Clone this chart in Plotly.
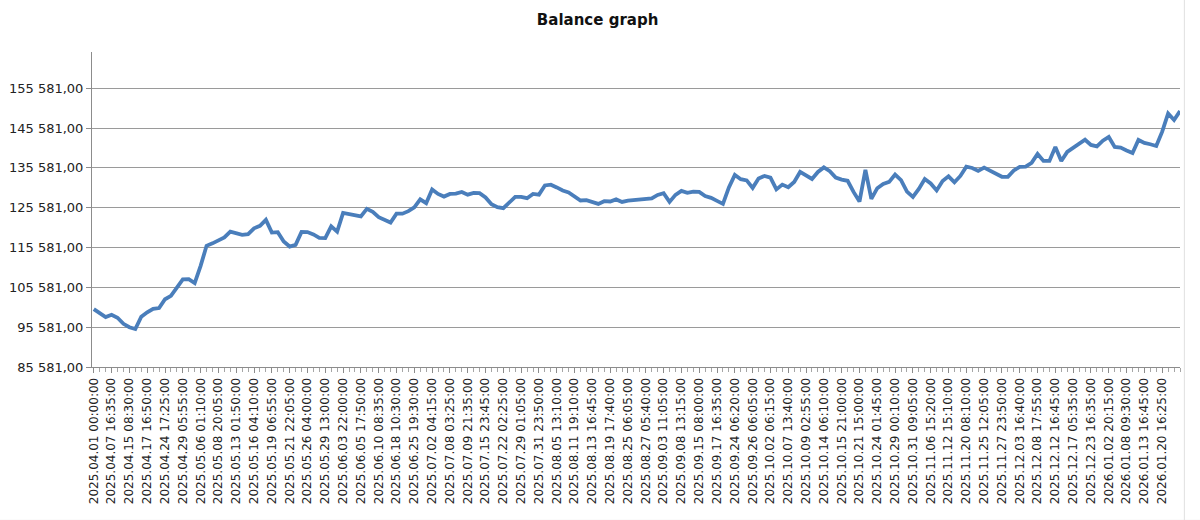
import plotly.graph_objects as go

# ---- data ----
tick_labels = [
    "2025.04.01 00:00:00", "2025.04.07 16:35:00", "2025.04.15 08:30:00", "2025.04.17 16:50:00",
    "2025.04.24 17:25:00", "2025.04.29 05:55:00", "2025.05.06 01:10:00", "2025.05.08 20:05:00",
    "2025.05.13 01:50:00", "2025.05.16 04:10:00", "2025.05.19 06:55:00", "2025.05.21 22:05:00",
    "2025.05.26 04:00:00", "2025.05.29 13:00:00", "2025.06.03 22:00:00", "2025.06.05 17:50:00",
    "2025.06.10 08:35:00", "2025.06.18 10:30:00", "2025.06.25 19:30:00", "2025.07.02 04:15:00",
    "2025.07.08 03:25:00", "2025.07.09 21:35:00", "2025.07.15 23:45:00", "2025.07.22 02:25:00",
    "2025.07.29 01:05:00", "2025.07.31 23:50:00", "2025.08.05 13:10:00", "2025.08.11 19:10:00",
    "2025.08.13 16:45:00", "2025.08.19 17:40:00", "2025.08.25 06:05:00", "2025.08.27 05:40:00",
    "2025.09.03 11:05:00", "2025.09.08 13:15:00", "2025.09.15 08:00:00", "2025.09.17 16:35:00",
    "2025.09.24 06:20:00", "2025.09.26 06:05:00", "2025.10.02 06:15:00", "2025.10.07 13:40:00",
    "2025.10.09 02:55:00", "2025.10.14 06:10:00", "2025.10.15 21:00:00", "2025.10.21 15:00:00",
    "2025.10.24 01:45:00", "2025.10.29 00:10:00", "2025.10.31 09:05:00", "2025.11.06 15:20:00",
    "2025.11.12 15:10:00", "2025.11.20 08:10:00", "2025.11.25 12:05:00", "2025.11.27 23:50:00",
    "2025.12.03 16:40:00", "2025.12.08 17:55:00", "2025.12.12 16:45:00", "2025.12.17 05:35:00",
    "2025.12.23 16:35:00", "2026.01.02 20:15:00", "2026.01.08 09:30:00", "2026.01.13 16:45:00",
    "2026.01.20 16:25:00",
]
points_per_label = 3

balance = [
    100130, 99080, 98120, 98700, 97950, 96440, 95570, 95120, 98200, 99330,
    100200, 100380, 102600, 103470, 105730, 107610, 107660, 106660, 110990, 116020,
    116640, 117270, 118150, 119600, 119280, 118770, 118950, 120400, 121030, 122540,
    119350, 119450, 117090, 115840, 116270, 119530, 119480, 118880, 118020, 117950,
    120910, 119600, 124290, 123970, 123520, 123420, 125300, 124540, 123210, 122540,
    121860, 124100, 124100, 124720, 125700, 127680, 126730, 130190, 129060, 128380,
    129060, 129130, 129560, 128880, 129310, 129260, 128180, 126450, 125720, 125470,
    126800, 128310, 128310, 127980, 129060, 128880, 131190, 131370, 130690, 129910,
    129440, 128410, 127400, 127480, 126980, 126550, 127230, 127150, 127680, 127050,
    127380, 127480, 127760, 127810, 127930, 128810, 129240, 127050, 128810, 129810,
    129310, 129640, 129560, 128510, 128060, 127310, 126550, 130690, 133830, 132750,
    132450, 130570, 132950, 133570, 133150, 130190, 131390, 130740, 132070, 134580,
    133830, 132820, 134580, 135710, 134780, 133170, 132650, 132350, 129560, 127130,
    135080, 127810, 130490, 131570, 132070, 133900, 132520, 129640, 128310, 130320,
    132820, 131690, 129940, 132320, 133480, 131970, 133570, 135880, 135580, 134830,
    135660, 134830, 134130, 133370, 133330, 134960, 135840, 135910, 136840, 139100,
    137340, 137340, 140850, 137340, 139600, 140680, 141810, 142660, 141350, 140980,
    142410, 143360, 140850, 140680, 139970, 139350, 142610, 141860, 141530, 141100,
    144690, 149260, 147630, 149890,
]

y_ticks = [85581, 95581, 105581, 115581, 125581, 135581, 145581, 155581]


def fmt(v):
    return f"{v:,.2f}".replace(",", " ").replace(".", ",")


x_idx = list(range(len(balance)))
tick_pos = [i * points_per_label for i in range(len(tick_labels))]

fig = go.Figure()
fig.add_trace(go.Scatter(
    x=x_idx, y=balance, mode="lines",
    line=dict(color="rgb(74,126,187)", width=3.8),
    hoverinfo="y",
))

fig.update_layout(
    width=1200, height=520,
    margin=dict(l=92, r=20, t=52, b=153),
    paper_bgcolor="white", plot_bgcolor="white",
    showlegend=False,
    font=dict(family="DejaVu Sans", size=12, color="#222222"),
    title=dict(text="<b>Balance graph</b>", x=0.498, xanchor="center", y=0.962, yanchor="middle",
               font=dict(family="DejaVu Sans", size=15, color="#111111")),
)

fig.update_xaxes(
    range=[-0.3, len(balance) - 1],
    tickmode="array", tickvals=tick_pos, ticktext=tick_labels,
    tickangle=-90, ticks="outside", ticklen=5, tickcolor="#8c8c8c",
    showgrid=False, zeroline=False, automargin=False,
    showline=True, linecolor="#8c8c8c", linewidth=1,
    minor=dict(tickmode="linear", tick0=0, dtick=1, ticks="outside", ticklen=4,
               tickcolor="#a6a6a6", showgrid=False),
    tickfont=dict(family="DejaVu Sans", size=12, color="#222222"),
)

fig.update_yaxes(
    range=[85581, 164700],
    tickmode="array", tickvals=y_ticks, ticktext=[fmt(v) for v in y_ticks],
    ticks="outside", ticklen=5, tickcolor="#8c8c8c",
    showgrid=True, gridcolor="#9a9a9a", gridwidth=1,
    zeroline=False, showline=True, linecolor="#8c8c8c", linewidth=1,
    automargin=False,
    tickfont=dict(family="DejaVu Sans", size=13, color="#222222"),
)

# faint frame elements around the chart area (page table border)
fig.add_shape(type="line", xref="paper", yref="paper", x0=-0.085, x1=1.02,
              y0=-0.487, y1=-0.487, line=dict(color="#d4d4d4", width=1))
fig.add_shape(type="line", xref="paper", yref="paper", x0=1.004, x1=1.004,
              y0=-0.49, y1=1.17, line=dict(color="#e0e0e0", width=1))

fig.write_html("out.html")
